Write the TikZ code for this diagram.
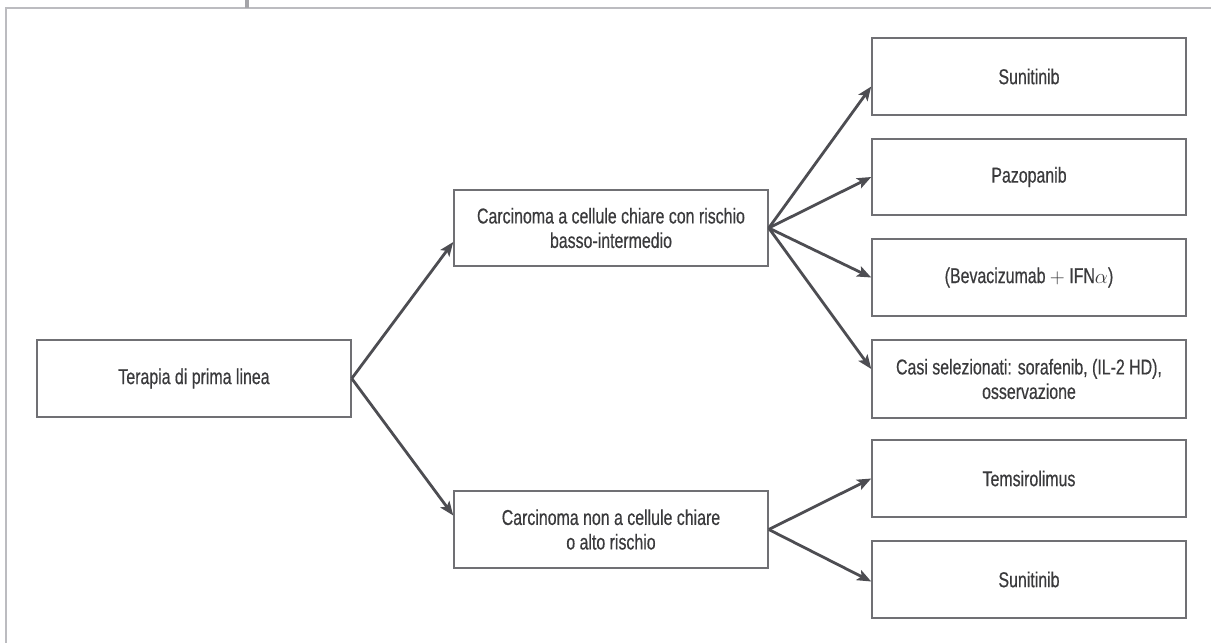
\documentclass[tikz,border=0pt]{standalone}
\usepackage{fontspec}
\setmainfont{Liberation Sans}[FakeStretch=0.74,FakeBold=0.5]
\usetikzlibrary{arrows.meta}
\definecolor{framegray}{HTML}{BCBCC0}
\definecolor{tickgray}{HTML}{A4A4A8}
\definecolor{boxgray}{HTML}{707074}
\definecolor{arrowgray}{HTML}{4D4D52}
\definecolor{textgray}{HTML}{3A3A3C}
\tikzset{
  box/.style={draw=boxgray, line width=1.5pt, minimum width=314pt, minimum height=77pt,
    inner sep=0pt, align=center, text=textgray, font=\fontsize{21.5}{24.5}\selectfont},
  conn/.style={draw=arrowgray, line width=2.8pt,
    -{Stealth[length=14pt,width=11pt,inset=3pt]}},
  frameline/.style={draw=framegray, line width=2.2pt}
}
\begin{document}
\begin{tikzpicture}[x=1pt,y=-1pt]
\useasboundingbox (0,0) rectangle (1211,643);
% frame
\coordinate (fa) at (6,643);
\coordinate (fb) at (6,8);
\coordinate (fc) at (1211,8);
\coordinate (ta) at (247,0);
\coordinate (tb) at (247,8);
\draw[frameline] (fa) -- (fb) -- (fc);
\draw[draw=tickgray, line width=4pt] (ta) -- (tb);
% nodes
\node[box] (terapia) at (194,378.5) {Terapia di prima linea};
\node[box, minimum height=76pt] (chiara) at (611,228) {Carcinoma a cellule chiare con rischio\\basso-intermedio};
\node[box] (non) at (611,529.5) {Carcinoma non a cellule chiare\\o alto rischio};
\node[box] (sun1) at (1029,76.5) {Sunitinib};
\node[box, minimum height=76pt] (pazo) at (1029,177) {Pazopanib};
\node[box] (beva) at (1029,277.5) {(Bevacizumab \ensuremath{+} IFN\ensuremath{\alpha})};
\node[box, minimum height=78pt] (casi) at (1029,379) {Casi selezionati: sorafenib, (IL-2 HD),\\osservazione};
\node[box] (tems) at (1029,478.5) {Temsirolimus};
\node[box] (sun2) at (1029,579.5) {Sunitinib};
% connectors
\draw[conn] (terapia.east) -- ([yshift=-14pt]chiara.west);
\draw[conn] (terapia.east) -- ([yshift=14pt]non.west);
\draw[conn] (chiara.east) -- ([yshift=-10pt]sun1.west);
\draw[conn] (chiara.east) -- (pazo.west);
\draw[conn] (chiara.east) -- (beva.west);
\draw[conn] (chiara.east) -- ([yshift=10pt]casi.west);
\draw[conn] (non.east) -- (tems.west);
\draw[conn] (non.east) -- ([yshift=-2pt]sun2.west);
\end{tikzpicture}
\end{document}
